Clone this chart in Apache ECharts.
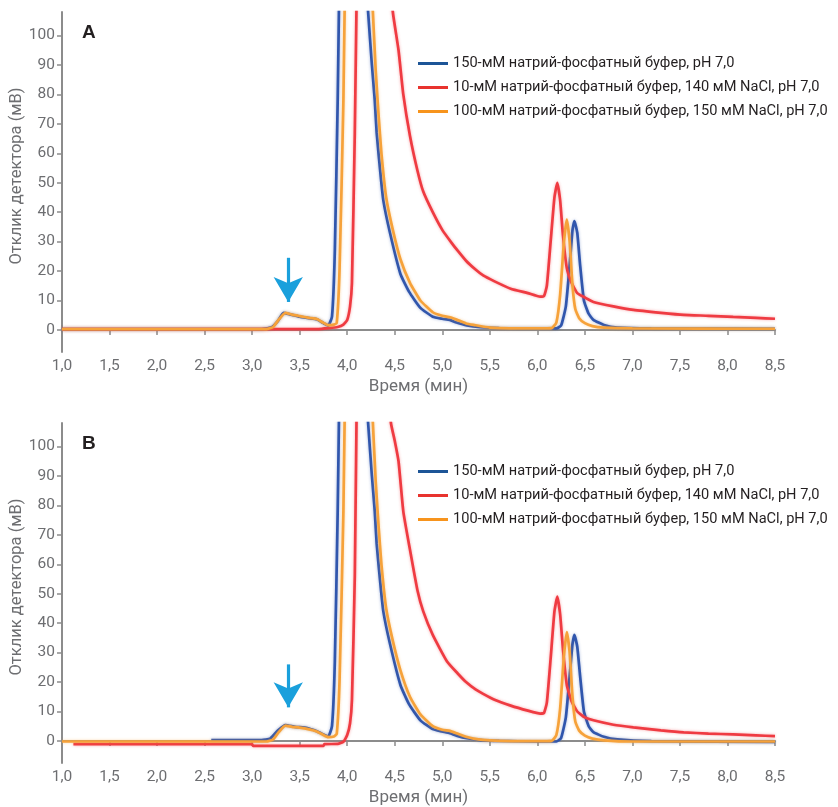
<!DOCTYPE html>
<html><head><meta charset="utf-8">
<script src="https://cdn.jsdelivr.net/npm/echarts@6/dist/echarts.min.js"></script>
<style>html,body{margin:0;padding:0;background:#fff}#c{width:838px;height:807px}</style>
</head><body><div id="c"></div>
<script>
// ---------- data ----------
const seriesNames = [
  '150-мМ натрий-фосфатный буфер, pH 7,0',
  '10-мМ натрий-фосфатный буфер, 140 мМ NaCl, pH 7,0',
  '100-мМ натрий-фосфатный буфер, 150 мМ NaCl, pH 7,0'
];
const panelLabels = ['A', 'B'];
const xLabel = 'Время (мин)';
const yLabel = 'Отклик детектора (мВ)';
const yTicks = [0, 10, 20, 30, 40, 50, 60, 70, 80, 90, 100];

// Panel A
const tA_blue = [1.0,3.1,3.2,3.27,3.33,3.4,3.5,3.6,3.68,3.75,3.8,3.84,3.87,3.9,3.93,3.97,4.05,4.12,4.18,4.22,4.26,4.29,4.31,4.35,4.38,4.45,4.56,4.65,4.77,4.9,5.0,5.08,5.15,5.26,5.4,5.6,6.0,6.2,6.25,6.3,6.34,6.37,6.39,6.42,6.45,6.49,6.54,6.59,6.7,6.84,7.2,8.5];
const vA_blue = [0.3,0.3,0.8,3,5.8,5.3,4.5,4,3.6,2.3,1.5,4.5,27,78,150,260,320,190,130,108,90,78,67,53,44,33,19,13,7.5,4.5,3.8,3.4,2.5,1.5,0.9,0.6,0.5,0.5,1.5,8,22,34,37,33,22,10,5.5,3.4,1.7,0.8,0.5,0.4];
const tA_red = [1.0,3.7,3.8,3.9,3.96,4.0,4.03,4.05,4.08,4.1,4.13,4.2,4.3,4.36,4.42,4.48,4.54,4.59,4.66,4.74,4.8,4.9,5.0,5.1,5.16,5.25,5.35,5.43,5.55,5.72,5.9,6.03,6.07,6.1,6.14,6.18,6.21,6.24,6.27,6.31,6.36,6.42,6.5,6.59,6.8,7.01,7.3,7.54,7.8,8.06,8.3,8.5];
const vA_red = [0.3,0.3,0.6,1,1.8,3.4,8,16,67,115,170,280,230,170,132,108,95,80,66,54,47,40,34,29.5,27,23.5,20.5,18.5,16.5,14,12.5,11.3,11.5,15,30,45,50,44,32,21,16,12.5,11,9.5,8,6.8,5.8,5.1,4.8,4.4,4.1,3.8];
const tA_orange = [1.0,3.15,3.22,3.28,3.35,3.42,3.5,3.6,3.68,3.75,3.8,3.86,3.89,3.92,3.96,3.99,4.05,4.12,4.19,4.24,4.27,4.3,4.33,4.36,4.41,4.48,4.56,4.66,4.77,4.9,5.0,5.08,5.15,5.25,5.33,5.5,6.0,6.15,6.2,6.24,6.28,6.31,6.34,6.37,6.4,6.44,6.5,6.58,6.7,7.0,8.5];
const vA_orange = [0.3,0.3,1,3.5,5.8,5.2,4.7,4.1,3.7,2.4,1.6,1.8,2.4,21,78,150,260,300,180,128,108,88,73,60,45,34,24,16,10,6,4.8,4.3,3.5,2.2,1.7,0.8,0.5,0.6,2.5,12,30,37.5,30,15,7,4,2.3,1.3,0.8,0.5,0.4];

// Panel B
const tB_blue = [2.57,3.1,3.19,3.27,3.35,3.45,3.58,3.68,3.75,3.8,3.84,3.87,3.9,3.93,3.97,4.05,4.12,4.18,4.22,4.26,4.29,4.31,4.35,4.38,4.45,4.56,4.65,4.77,4.9,5.0,5.08,5.15,5.26,5.4,5.6,6.0,6.2,6.25,6.3,6.34,6.37,6.39,6.42,6.45,6.49,6.54,6.59,6.7,6.84,7.2,8.5];
const vB_blue = [0.3,0.3,0.8,3.5,5.4,4.8,4.4,3.3,2.2,1.5,5,27,78,150,260,320,190,130,108,90,78,67,53,44,33,19,12.5,7,4,3.2,2.6,1.8,0.9,0.3,0,-0.2,-0.2,1,8,22,33,36,32,22,10,5,3,1.4,0.5,-0.1,-0.3];
const tB_red = [1.12,3.0,3.01,3.75,3.76,3.9,3.96,4.0,4.03,4.05,4.08,4.1,4.13,4.2,4.3,4.36,4.41,4.46,4.5,4.54,4.59,4.66,4.74,4.8,4.9,5.05,5.16,5.25,5.35,5.43,5.55,5.72,5.9,6.03,6.07,6.1,6.14,6.18,6.21,6.24,6.27,6.31,6.36,6.42,6.5,6.59,6.8,7.01,7.3,7.54,7.8,8.06,8.3,8.5];
const vB_red = [-1.1,-1.1,-1.7,-1.7,-1.1,-1,-0.3,2,6,14,56,115,170,280,230,170,132,108,102,95,78,65,51,44,36,27,23,20,17.5,16,14,12,10.3,9.3,9.5,13,28,44,49,43,31,19,13.5,10,8,7,5.5,4.6,3.6,2.9,2.5,2.2,1.9,1.6];
const tB_orange = [1.0,3.15,3.22,3.28,3.35,3.42,3.5,3.6,3.68,3.75,3.8,3.86,3.89,3.92,3.96,3.99,4.05,4.12,4.19,4.24,4.27,4.3,4.33,4.36,4.41,4.48,4.56,4.66,4.77,4.9,5.0,5.08,5.15,5.25,5.33,5.5,6.0,6.15,6.2,6.24,6.28,6.31,6.34,6.37,6.4,6.44,6.5,6.58,6.7,7.0,8.5];
const vB_orange = [-0.2,-0.2,0.5,3,5.2,4.8,4.5,3.9,3.2,2,1.3,1.5,2.4,21,78,150,260,300,180,128,108,88,73,60,45,34,24,15,9,5,3.8,3.4,2.6,1.4,0.8,0.2,-0.1,0,2,11,29,37,30,15,6.5,3.5,1.8,0.8,0.2,-0.2,-0.2];

// arrow annotations (x, from y, tip y) in data units
const arrowA = [3.38, 24.5, 9.5];
const arrowB = [3.38, 26, 11.4];

// ---------- chart ----------
const FONT = "Roboto, sans-serif";
const lineColors = ['#3056ad', '#ef3b42', '#f6a23a'];
const legendColors = ['#1d5597', '#e8332e', '#f7941d'];
const zip = (t, v) => t.map((x, i) => [x, v[i]]);

const panels = [
  {blue: zip(tA_blue, vA_blue), red: zip(tA_red, vA_red), orange: zip(tA_orange, vA_orange), arrow: arrowA},
  {blue: zip(tB_blue, vB_blue), red: zip(tB_red, vB_red), orange: zip(tB_orange, vB_orange), arrow: arrowB}
];
const gridTops = [12, 423];
const legendTops = [51, 459];
const gridH = 340;

const option = {
  animation: false,
  backgroundColor: '#fff',
  title: panelLabels.map((t, i) => ({
    text: t, left: 77, top: gridTops[i] + 6, padding: 5,
    textStyle: {fontFamily: "'Liberation Sans', Roboto, sans-serif", fontWeight: 'bold', fontSize: 19, color: '#231f20'}
  })),
  legend: panels.map((p, i) => ({
    orient: 'vertical', left: 413, top: legendTops[i],
    itemWidth: 30, itemHeight: 3, itemGap: 9, icon: 'rect',
    textStyle: {fontFamily: FONT, fontSize: 14.6, color: '#231f20'},
    data: seriesNames.map((n, k) => ({name: n, itemStyle: {color: legendColors[k]}}))
  })),
  grid: gridTops.map(t => ({left: 62, right: 63, top: t, height: gridH, containLabel: false, outerBoundsMode: 'none'})),
  xAxis: gridTops.map((t, i) => ({
    type: 'value', gridIndex: i, min: 1, max: 8.5, interval: 0.5,
    name: xLabel, nameLocation: 'middle', nameGap: 26, nameMoveOverlap: false,
    nameTextStyle: {fontFamily: FONT, fontSize: 17, color: '#6d6e71'},
    axisLine: {lineStyle: {color: '#8c8c8c', width: 2}},
    axisTick: {lineStyle: {color: '#8c8c8c', width: 1.5}, length: 5},
    axisLabel: {margin: 6, fontFamily: FONT, fontSize: 15.5, color: '#6d6e71',
      formatter: v => v.toFixed(1).replace('.', ',')},
    splitLine: {show: false}
  })),
  yAxis: gridTops.map((t, i) => ({
    type: 'value', gridIndex: i, min: -7.5, max: 108,
    name: yLabel, nameLocation: 'middle', nameGap: 37, nameRotate: 90, nameMoveOverlap: false,
    nameTextStyle: {fontFamily: FONT, fontSize: 16.5, color: '#6d6e71', padding: [0, 0, 0, 12]},
    axisLine: {show: true, lineStyle: {color: '#8c8c8c', width: 2}},
    axisTick: {show: true, customValues: yTicks, lineStyle: {color: '#8c8c8c', width: 1.5}, length: 5},
    axisLabel: {customValues: yTicks, margin: 7, fontFamily: FONT, fontSize: 15.5, color: '#6d6e71'},
    splitLine: {show: false}
  })),
  series: []
};

panels.forEach((p, i) => {
  const keys = ['blue', 'red', 'orange'];
  keys.forEach((k, j) => {
    const s = {
      name: seriesNames[j], type: 'line', xAxisIndex: i, yAxisIndex: i,
      data: p[k], showSymbol: false, symbol: 'none', smooth: 0.15, clip: true,
      lineStyle: {color: lineColors[j], width: 2.7, shadowColor: lineColors[j] + '70', shadowBlur: 3},
      itemStyle: {color: lineColors[j]}, z: 2 + j
    };
    if (j === 0) {
      s.markLine = {
        silent: true, animation: false,
        symbol: ['none', 'arrow'], symbolSize: [22, 25],
        label: {show: false},
        lineStyle: {color: '#1aa0dc', width: 3.2, type: 'solid'},
        data: [[{coord: [p.arrow[0], p.arrow[1]]}, {coord: [p.arrow[0], p.arrow[2]]}]]
      };
    }
    option.series.push(s);
  });
});

const chart = echarts.init(document.getElementById('c'), null, {renderer: 'canvas'});
chart.setOption(option);
</script>
</body></html>
